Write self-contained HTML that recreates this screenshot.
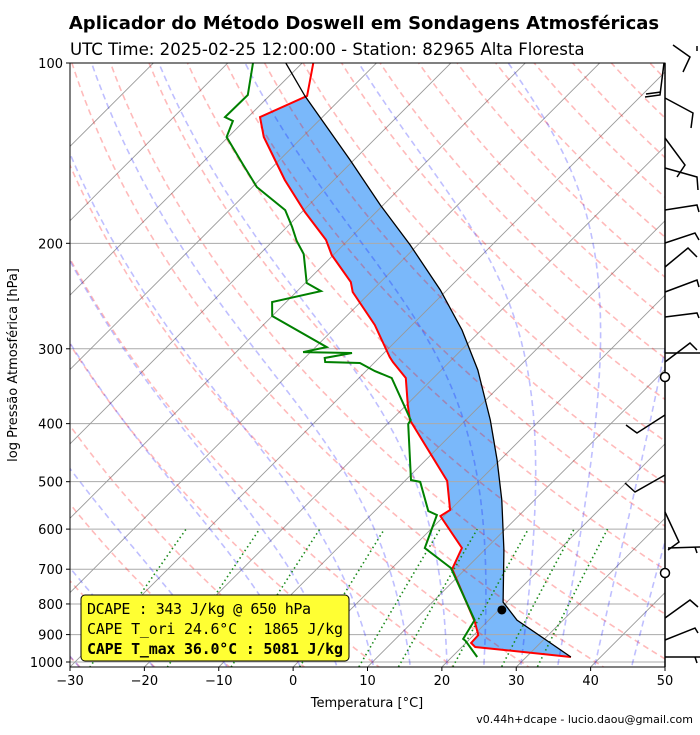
<!DOCTYPE html>
<html><head><meta charset="utf-8"><style>
body{margin:0;background:#fff;}
svg text{font-family:"DejaVu Sans","Liberation Sans",sans-serif;}
</style></head><body>
<svg id="chart" width="700" height="730" xmlns="http://www.w3.org/2000/svg">
<defs><clipPath id="clip"><rect x="70" y="63" width="595" height="604"/></clipPath></defs>
<rect width="700" height="730" fill="#fff"/>
<text x="364" y="29" text-anchor="middle" font-size="18" font-weight="bold">Aplicador do Método Doswell em Sondagens Atmosféricas</text>
<text x="70" y="55" font-size="16.6">UTC Time: 2025-02-25 12:00:00 - Station: 82965 Alta Floresta</text>
<g id="bg" clip-path="url(#clip)"></g>
<g id="data" clip-path="url(#clip)"></g>
<g id="axes"></g>
<g id="barbs" fill="none" stroke="#000" stroke-width="1.5"></g>
<g>
<rect x="81" y="595" width="268" height="66" rx="4" fill="#ffff33" stroke="#000" stroke-width="1"/>
<text x="87" y="614" font-size="15" textLength="224" style="font-family:'DejaVu Sans Mono','Liberation Mono',monospace">DCAPE : 343 J/kg @ 650 hPa</text>
<text x="87" y="634" font-size="15" textLength="256" style="font-family:'DejaVu Sans Mono','Liberation Mono',monospace">CAPE T_ori 24.6°C : 1865 J/kg</text>
<text x="87" y="654" font-size="15" font-weight="bold" textLength="256" style="font-family:'DejaVu Sans Mono','Liberation Mono',monospace">CAPE T_max 36.0°C : 5081 J/kg</text>
</g>
<text x="367" y="707" text-anchor="middle" font-size="13">Temperatura [°C]</text>
<text transform="translate(17,365) rotate(-90)" text-anchor="middle" font-size="13">log Pressão Atmosférica [hPa]</text>
<text x="693" y="723" text-anchor="end" font-size="11">v0.44h+dcape  -  lucio.daou@gmail.com</text>
</svg>
<script>
const envP = [100,113.5,123.1,132.9,156.8,177.3,197.4,209.2,232.1,241.2,273.8,309.6,315.6,335.7,372.4,394.5,498.6,557.5,570.6,645.2,699.3,857.7,901.6,929.4,944.1,981];
const envT = [-78.5,-74.9,-78.4,-75.2,-66.6,-59.6,-53.0,-50.2,-44.0,-42.4,-35.0,-28.7,-27.6,-23.7,-19.8,-17.5,-4.3,0.0,-0.5,6.7,8.2,18.4,20.6,20.7,21.8,36.0];
const dewP = [100,113.1,123.1,125.0,132.9,148.0,161.1,176.0,187.8,198.2,208.4,233.0,240.3,250.6,264.5,298.0,303.8,304.9,310.8,315.6,316.8,326.8,335.7,394.5,400.6,496.7,500.5,559.7,568.4,645.2,696.7,851.3,915.2,922.3,981];
const dewT = [-86.6,-83.0,-83.1,-81.5,-80.2,-74.2,-69.4,-62.5,-59.3,-56.8,-54.1,-49.8,-46.8,-51.9,-50.0,-38.5,-41.0,-34.3,-37.3,-36.7,-31.9,-28.8,-25.6,-17.4,-17.2,-9.3,-7.8,-2.8,-1.1,1.7,7.9,18.1,19.1,19.7,23.4];
const parP = [100,113.5,145.2,172.6,201.3,239.3,279.1,325.5,394.5,460.1,536.5,650.1,794.2,851.3,981];
const parT = [-82.2,-75.2,-60.5,-50.4,-41.0,-30.9,-22.6,-15.1,-6.7,-0.4,5.6,12.6,19.5,23.8,36.0];
const dotP = [818.8];
const dotT = [20.4];
const xTicks = [-30,-20,-10,0,10,20,30,40,50];
const pTicks = [100,200,300,400,500,600,700,800,900,1000];
const isoT = [-100,-90,-80,-70,-60,-50,-40,-30,-20,-10,0,10,20,30,40,50];
const dryT0 = [-50,-40,-30,-20,-10,0,10,20,30,40,50,60,70,80,90,100,110,120,130,140,150,160,170,180,190,200];
const moistT0 = [-50,-40,-30,-20,-10,0,5,10,15,20,25,30,35,40,45];
const mixW = [0.0004,0.001,0.002,0.004,0.007,0.01,0.016,0.024,0.032];

const NS="http://www.w3.org/2000/svg";
const X0=70,X1=665,Y0=63,YB=667,SC=7.4375;
function yOf(p){return Y0+599*Math.log10(p/100);}
function xOf(T,p){return X0+(T+30)*SC+(YB-yOf(p));}
function el(tag,attrs,parent){const e=document.createElementNS(NS,tag);for(const k in attrs)e.setAttribute(k,attrs[k]);parent.appendChild(e);return e;}
function pts(P,T){return P.map((p,i)=>xOf(T[i],p).toFixed(1)+","+yOf(p).toFixed(1)).join(" ");}
const bg=document.getElementById('bg'),dg=document.getElementById('data'),ax=document.getElementById('axes');

let fp=[],ft=[];
for(let i=1;i<parP.length;i++){fp.push(parP[i]);ft.push(parT[i]);}
for(let i=envP.length-1;i>=1;i--){fp.push(envP[i]);ft.push(envT[i]);}
const fill=el('polygon',{points:pts(fp,ft),fill:'#7ab8fa',stroke:'none'},bg);



pTicks.forEach(p=>{const l=el('line',{x1:X0,x2:X1,y1:yOf(p),y2:yOf(p),stroke:'#aaa','stroke-width':1},bg);

});
const plev=[];for(let p=1050;p>=95;p-=5)plev.push(p);
isoT.forEach(t=>{const l=el('polyline',{points:pts([1050,95],[t,t]),fill:'none',stroke:'#999','stroke-width':0.9},bg);

});
dryT0.forEach(t0=>{const th=t0+273.15;const T=plev.map(p=>th*Math.pow(p/1000,0.2857)-273.15);
const l=el('polyline',{points:pts(plev,T),fill:'none',stroke:'rgba(255,0,0,0.27)','stroke-width':1.6,'stroke-dasharray':'6,4'},bg);

});
function es(T){return 6.112*Math.exp(17.67*T/(T+243.5));}
function dTdp(Tk,p){const Rd=287.04,cp=1005.7,Lv=2.501e6,eps=0.622;const e=es(Tk-273.15);const rs=eps*e/(p-e);
return (Rd*Tk+Lv*rs)/(cp+Lv*Lv*rs*eps/(Rd*Tk*Tk))/p;}
moistT0.forEach(t0=>{const P=[],T=[];
function integ(from,to){let Tk=t0+273.15,p=from;const dp=(to<from?-2:2);const out=[[p,Tk]];
while((dp<0&&p>to)||(dp>0&&p<to)){const k1=dTdp(Tk,p),k2=dTdp(Tk+k1*dp/2,p+dp/2);Tk+=k2*dp;p+=dp;out.push([p,Tk]);}return out;}
const up=integ(1000,95),down=integ(1000,1050);
down.reverse().forEach(a=>{P.push(a[0]);T.push(a[1]-273.15);});
up.slice(1).forEach(a=>{P.push(a[0]);T.push(a[1]-273.15);});
const l=el('polyline',{points:pts(P,T),fill:'none',stroke:'rgba(0,0,255,0.25)','stroke-width':1.6,'stroke-dasharray':'6,4'},bg);

});
mixW.forEach(w=>{const P=[1050,1000,900,800,700,600];const T=P.map(p=>{const e=p*w/(0.622+w);const a=Math.log(e/6.112);return 243.5*a/(17.67-a);});
const l=el('polyline',{points:pts(P,T),fill:'none',stroke:'#1a8a1a','stroke-width':1.6,'stroke-dasharray':'1.5,3'},bg);

});

const envL=el('polyline',{points:pts(envP,envT),fill:'none',stroke:'#f00','stroke-width':2},dg);


const dewL=el('polyline',{points:pts(dewP,dewT),fill:'none',stroke:'#008000','stroke-width':2},dg);


const parL=el('polyline',{points:pts(parP,parT),fill:'none',stroke:'#000','stroke-width':1.3},dg);


dotP.forEach((p,i)=>{const c=el('circle',{cx:xOf(dotT[i],p),cy:yOf(p),r:4.5,fill:'#000'},dg);

});

el('rect',{x:X0,y:Y0,width:X1-X0,height:YB-Y0,fill:'none',stroke:'#000','stroke-width':1},ax);
xTicks.forEach(t=>{const x=X0+(t+30)*SC;el('line',{x1:x,x2:x,y1:YB,y2:YB+4,stroke:'#000'},ax);
const tx=el('text',{x:x,y:YB+18,'text-anchor':'middle','font-size':13},ax);tx.textContent=(t<0?'\u2212'+(-t):t);

});
pTicks.forEach(p=>{const y=yOf(p);el('line',{x1:X0-4,x2:X0,y1:y,y2:y,stroke:'#000'},ax);
const tx=el('text',{x:X0-7,y:y+5,'text-anchor':'end','font-size':13},ax);tx.textContent=p;

});

const bw=document.getElementById('barbs');
el('line',{x1:665,y1:63,x2:665,y2:667},bw);
const barbs=["673,45 690,57 683,72","697,46 697,51","664,63 660,95 645,97","661,92 646,94","665,98 693,113 691,128","665,138 685,165 677,177",
"665,168 697,177 698,190","665,210 697,205 699,212","665,243 695,233 699,240","665,267 688,248 697,257","665,292 697,280 699,287",
"665,317 697,313 699,318","665,353 700,353","665,362 690,343 697,350","665,415 637,433 626,425","665,475 635,492 625,483",
"665,512 679,542 668,550","668,548 700,547","695,547 697,553","665,618 690,600 698,607","665,640 695,628 698,633","665,657 700,657","695,657 697,663"];
barbs.forEach(s=>{const b=el('polyline',{points:s},bw);

});
[377,573].forEach(y=>{const c=el('circle',{cx:665,cy:y,r:4.5,fill:'#fff'},bw);

});
</script>
</body></html>
